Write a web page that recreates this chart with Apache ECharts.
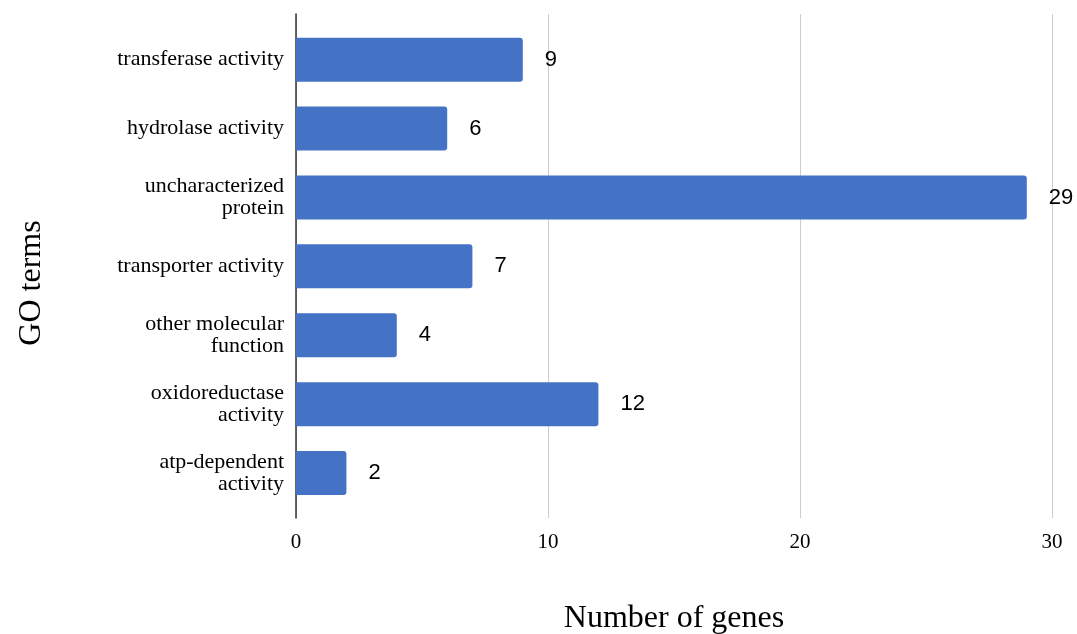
<!DOCTYPE html>
<html>
<head>
<meta charset="utf-8">
<script src="https://cdn.jsdelivr.net/npm/echarts@6/dist/echarts.min.js"></script>
<style>
  html, body { margin: 0; padding: 0; background: #ffffff; }
  #chart { width: 1077px; height: 634px; }
</style>
</head>
<body>
<div id="chart"></div>
<script>
// GO term categories, top to bottom
const categories = [
  'transferase activity',
  'hydrolase activity',
  'uncharacterized\nprotein',
  'transporter activity',
  'other molecular\nfunction',
  'oxidoreductase\nactivity',
  'atp-dependent\nactivity'
];
// Number of genes per GO term
const geneCounts = [9, 6, 29, 7, 4, 12, 2];
// Value axis range and step
const xMin = 0;
const xMax = 30;
const xStep = 10;

const serif = '"Liberation Serif", "Times New Roman", serif';
const sans = '"Liberation Sans", Arial, Helvetica, sans-serif';

const chart = echarts.init(document.getElementById('chart'), null, { renderer: 'canvas' });

chart.setOption({
  backgroundColor: '#ffffff',
  animation: false,
  grid: [
    // frame grid: gridlines, zero axis line and tick labels
    { left: 296, right: 25, top: 14, bottom: 116, outerBoundsMode: 'none', containLabel: false },
    // bar grid: category bands
    { left: 296, right: 25, top: 25.2, height: 482.3, outerBoundsMode: 'none', containLabel: false }
  ],
  xAxis: [
    {
      gridIndex: 0,
      type: 'value',
      min: xMin,
      max: xMax,
      interval: xStep,
      axisLine: { show: false },
      axisTick: { show: false },
      axisLabel: { color: '#000', fontFamily: serif, fontSize: 21, margin: 14 },
      splitLine: { show: true, lineStyle: { color: '#cccccc', width: 1 } },
      name: 'Number of genes',
      nameLocation: 'middle',
      nameGap: 85,
      nameTextStyle: { color: '#000', fontFamily: serif, fontSize: 32 }
    },
    {
      gridIndex: 1,
      type: 'value',
      min: xMin,
      max: xMax,
      show: false
    }
  ],
  yAxis: [
    {
      gridIndex: 0,
      type: 'value',
      min: 0,
      max: 1,
      axisLine: { show: true, lineStyle: { color: '#333333', width: 1.5 } },
      axisTick: { show: false },
      axisLabel: { show: false },
      splitLine: { show: false },
      name: 'GO terms',
      nameLocation: 'middle',
      nameGap: 248,
      nameRotate: 90,
      nameTextStyle: {
        color: '#000',
        fontFamily: serif,
        fontSize: 32,
        padding: [0, 34, 0, 0]
      }
    },
    {
      gridIndex: 1,
      type: 'category',
      data: categories,
      inverse: true,
      axisLine: { show: false },
      axisTick: { show: false },
      splitLine: { show: false },
      axisLabel: {
        color: '#000',
        fontFamily: serif,
        fontSize: 22,
        lineHeight: 22,
        margin: 12,
        align: 'right'
      }
    }
  ],
  series: [
    {
      type: 'bar',
      xAxisIndex: 1,
      yAxisIndex: 1,
      data: geneCounts,
      barWidth: 44,
      itemStyle: { color: '#4472C4', borderRadius: [0, 3, 3, 0] },
      label: {
        show: true,
        position: 'right',
        distance: 22,
        color: '#000',
        fontFamily: sans,
        fontSize: 22
      }
    }
  ]
});
</script>
</body>
</html>
